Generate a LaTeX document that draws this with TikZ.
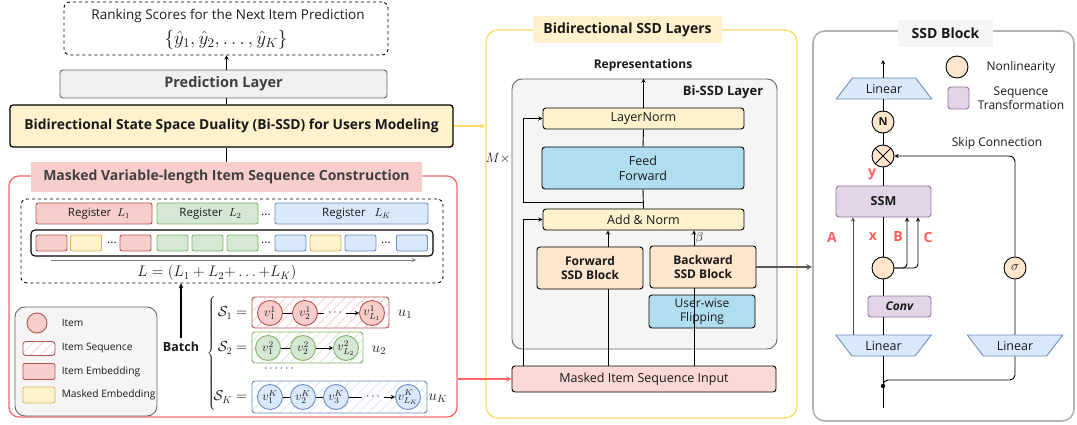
\RequirePackage{fix-cm}
\documentclass[tikz,border=0pt]{standalone}
\usepackage{fontspec}
\setmainfont{Open Sans}
\usetikzlibrary{shapes.geometric,patterns.meta,positioning}

\definecolor{redF}{HTML}{F8CECC}\definecolor{redL}{HTML}{B85450}
\definecolor{grnF}{HTML}{D5E8D4}\definecolor{grnL}{HTML}{82B366}
\definecolor{bluF}{HTML}{DAE8FC}\definecolor{bluL}{HTML}{6C8EBF}
\definecolor{ylwF}{HTML}{FFF2CC}\definecolor{ylwL}{HTML}{D6B656}
\definecolor{grayF}{HTML}{F5F5F5}\definecolor{grayL}{HTML}{666666}
\definecolor{orgF}{HTML}{FFE6CC}\definecolor{purF}{HTML}{E1D5E7}
\definecolor{purL}{HTML}{9673A6}\definecolor{cyanF}{HTML}{B1DDF0}
\definecolor{inF}{HTML}{FAD9D5}\definecolor{outR}{HTML}{FF6666}
\definecolor{outY}{HTML}{FFD966}\definecolor{outG}{HTML}{B3B3B3}
\definecolor{labR}{HTML}{FF5C5C}

\newcommand{\fsz}[1]{\fontsize{#1}{#1}\selectfont\baselineskip=1.2\baselineskip\relax}

\tikzset{
  txt/.style={font=\fsz{#1}},
  btxt/.style={font=\fsz{#1}\bfseries},
  sz/.style 2 args={minimum width=#1,minimum height=#2,inner sep=0pt},
  blk/.style={draw,rounded corners=3pt,align=center},
  emb/.style={draw=#1L,fill=#1F,rounded corners=2pt,sz={31}{16}},
  seq/.style={draw=#1L,rounded corners=3pt,preaction={fill=white},
    pattern={Lines[angle=45,distance=7pt,line width=0.7pt]},pattern color=#1F},
  itm/.style={circle,draw=#1L,fill=#1F,minimum size=25pt,inner sep=0pt,txt=12.5},
  lin/.style={trapezium,trapezium stretches=true,trapezium angle=45,
    draw=bluL,fill=bluF,sz={96}{21},txt=12.5},
  nl/.style={circle,draw,fill=orgF,minimum size=22pt,inner sep=0pt},
  purp/.style={draw=purL,fill=purF,rounded corners=3pt},
  lab/.style={text=labR,txt=14}
}

\begin{document}
\begin{tikzpicture}[x=1pt,y=-1pt,line width=0.9pt,every node/.style={txt=12,text=black!90}]
  \useasboundingbox (0,0) rectangle (1077,425);

  % 予測
  \node[draw,dashed,rounded corners=6pt,sz={324}{53}] (score) at (226,28.5) {};
  \node[txt=13.5] (scoretxt) at (228,16) {Ranking Scores for the Next Item Prediction};
  \node[txt=19] (scoremath) at (226,40) {$\{\hat{y}_1,\hat{y}_2,\ldots,\hat{y}_K\}$};
  \node[blk,draw=grayL,fill=black!6,text=black!75,btxt=14.5,sz={327}{28}] (pred) at (223.5,84) {Prediction Layer};
  \node[blk,fill=ylwF,line width=1.3pt,btxt=13.8,sz={443}{42}] (bissd) at (231.5,126)
    {Bidirectional State Space Duality (Bi-SSD) for Users Modeling};

  % 系列の構築
  \node[draw=outR,line width=1.3pt,rounded corners=10pt,sz={448}{241}] (construct) at (233,296.5) {};
  \node[fill=redF,btxt=14,text=black!75,sz={391}{30}] (ctitle) at (226.5,177)
    {Masked Variable-length Item Sequence Construction};
  \draw[-stealth] (pred.north -| ctitle.north) -- (score.south -| ctitle.north);
  \draw (bissd.north -| ctitle.north) -- (pred.south -| ctitle.north);
  \draw (ctitle.north) -- (ctitle.north |- bissd.south);

  \node[draw,dashed,rounded corners=6pt,sz={422}{84}] (regbox) at (232,241) {};
  \node[emb=red,sz={116}{21},txt=11.5] (reg1) at (94,213.5) {\hspace{10pt}Register~~$L_1$};
  \node[emb=grn,sz={101}{21},txt=11.5] (reg2) at (207.5,213.5) {\hspace{6pt}Register~~$L_2$};
  \node (rdots) at (266,215) {...};
  \node[emb=blu,sz={153}{21},txt=11.5] (regK) at (351.5,213.5) {\hspace{10pt}Register~~~$L_K$};

  \node[draw,rounded corners=4pt,line width=1.1pt,sz={402}{26}] (embrow) at (232,243) {};
  \foreach \c/\x [count=\i] in {red/51.5,ylw/86,red/135.5,grn/172.5,grn/207.5,grn/242.5,
      blu/290.5,ylw/325.5,blu/360.5,blu/412}
    \node[emb=\c] (e\i) at (\x,243) {};
  \foreach \x [count=\i] in {112,266,386}
    \node (edots\i) at (\x,243) {...};

  \coordinate (lstart) at (51,260);
  \coordinate (lend) at (416,260);
  \draw[-stealth,black!50] (lstart) -- (lend);
  \node[txt=15.3] (lsum) at (217,273) {$L=(L_1+L_2{+}\ldots{+}L_K)$};

  % バッチ
  \node[btxt=12.5] (batch) at (181,347) {Batch};
  \draw[-stealth,line width=1.1pt] (batch.north) -- (batch.north |- regbox.south);
  \node[inner sep=0pt] (brace) at (212,354) {$\left\{\vrule height 56pt depth 56pt width 0pt\right.$};

  \node[anchor=east,txt=14.5] (s1) at (251,313) {$\mathcal{S}_1=$};
  \node[anchor=east,txt=14.5] (s2) at (251,348) {$\mathcal{S}_2=$};
  \node[anchor=east,txt=14.5] (sK) at (251,397) {$\mathcal{S}_K=$};

  \node[seq=red,sz={137}{31}] (q1) at (320.5,312.5) {};
  \node[itm=red] (v11) at (270,313) {$v_1^1$};
  \node[itm=red] (v12) at (305,313) {$v_2^1$};
  \node (q1dots) at (335,313) {$\cdots$};
  \node[itm=red] (v1L) at (372,313) {$v_{L_1}^1$};
  \draw (v11) -- (v12);
  \draw (v12) -- (q1dots);
  \draw[-stealth] (q1dots) -- (v1L);
  \node[txt=15] (u1) at (405,314) {$u_1$};

  \node[seq=grn,sz={111}{31}] (q2) at (307.5,347.5) {};
  \node[itm=grn] (v21) at (268,348) {$v_1^2$};
  \node[itm=grn] (v22) at (303,348) {$v_2^2$};
  \node[itm=grn] (v2L) at (346,348) {$v_{L_2}^2$};
  \draw (v21) -- (v22);
  \draw[-stealth] (v22) -- (v2L);
  \node[txt=15] (u2) at (379,350) {$u_2$};

  \node (vdots) at (279,369) {$\cdots\cdots$};

  \node[seq=blu,sz={175}{32}] (qK) at (339.5,397) {};
  \node[itm=blu] (vK1) at (270,397) {$v_1^K$};
  \node[itm=blu] (vK2) at (303,397) {$v_2^K$};
  \node[itm=blu] (vK3) at (336,397) {$v_3^K$};
  \node (qKdots) at (373,397) {$\cdots$};
  \node[itm=blu] (vKL) at (408,397) {$v_{L_K}^K$};
  \draw (vK1) -- (vK2);
  \draw (vK2) -- (vK3);
  \draw (vK3) -- (qKdots);
  \draw[-stealth] (qKdots) -- (vKL);
  \node[txt=15] (uK) at (438,398) {$u_K$};

  % 凡例
  \node[draw=grayL,fill=grayF,rounded corners=10pt,sz={142}{109}] (legend) at (86,361.5) {};
  \node[itm=red,minimum size=20pt] (lgitem) at (37,323) {};
  \node[seq=red,sz={32}{14}] (lgseq) at (39,348.5) {};
  \node[emb=red,sz={32}{16}] (lgemb) at (39,371.5) {};
  \node[emb=ylw,sz={32}{16}] (lgmask) at (39,395) {};
  \node[anchor=west,txt=10.2] (lgt1) at (58,323) {Item};
  \node[anchor=west,txt=10.2] (lgt2) at (58,348.5) {Item Sequence};
  \node[anchor=west,txt=10.2] (lgt3) at (58,371.5) {Item Embedding};
  \node[anchor=west,txt=10.2] (lgt4) at (58,395) {Masked Embedding};

  % 中央
  \node[draw=outY,line width=1.3pt,rounded corners=12pt,sz={311}{388}] (layers) at (641.5,224) {};
  \node[fill=ylwF,btxt=14,sz={189}{27}] (ltitle) at (627.5,29.5) {Bidirectional SSD Layers};
  \draw[-stealth,outY,line width=1.3pt] (bissd.east) -- (bissd.east -| layers.west);
  \node[btxt=12] (rep) at (643,65) {Representations};
  \node[draw=grayL,fill=grayF,rounded corners=10pt,sz={265}{270}] (bilayer) at (644.5,214) {};
  \node[anchor=east,btxt=13] (bititle) at (767,92) {Bi-SSD Layer};

  \node[blk,fill=ylwF,sz={201}{21},txt=12.5] (lnorm) at (643.5,118.5) {LayerNorm};
  \node[blk,fill=cyanF,sz={202}{42},txt=12.5] (ff) at (643,168) {Feed\\Forward};
  \node[blk,fill=ylwF,sz={201}{21},txt=12.5] (addn) at (643.5,219.5) {Add \& Norm};
  \node[blk,fill=orgF,btxt=12,sz={106}{42}] (fwd) at (590,268) {Forward\\SSD Block};
  \node[blk,fill=orgF,btxt=12,sz={106}{42}] (bwd) at (703,267) {Backward\\SSD Block};
  \node[blk,fill=cyanF,sz={106}{33},font=\fontsize{12}{13.5}\selectfont] (flip) at (702,311.5) {User-wise\\Flipping};
  \node[blk,fill=inF,sz={264}{26},txt=12.5] (input) at (644,379) {Masked Item Sequence Input};
  \node[txt=13.5] (mtimes) at (498,158) {$M\times$};

  \coordinate (mx) at (523,158);
  \coordinate (fx) at (608,0);
  \coordinate (bx) at (694,0);
  \coordinate (br1) at (643,202);
  \draw[-stealth] (lnorm.north) -- (lnorm.north |- bilayer.north);
  \draw (lnorm.south) -- (ff.north);
  \draw (ff.south) -- (addn.north);
  \draw[-stealth] (br1) -- (br1 -| mx) |- (lnorm.west);
  \draw[-stealth] (input.north -| mx) |- (addn.west);
  \draw[-stealth] (fwd.north -| fx) -- (addn.south -| fx);
  \draw[-stealth] (bwd.north -| bx) -- node[right,inner sep=1pt,txt=13] (beta) {$\beta$} (addn.south -| bx);
  \draw (input.north -| fx) -- (fwd.south -| fx);
  \draw (input.north -| bx) -- (bwd.south -| bx);
  \draw[-stealth,outR,line width=1.3pt] (construct.east |- input.west) -- (input.west);

  % 右側
  \node[draw=outG,line width=1.6pt,rounded corners=12pt,sz={261}{390}] (ssd) at (943.5,226) {};
  \node[fill=grayF,btxt=14,sz={95}{27}] (stitle) at (945.5,33.5) {SSD Block};
  \draw[-stealth,black!65,line width=1.6pt] (bwd.east) -- (bwd.east -| ssd.west);

  \node[lin] (lin1) at (884,88.5) {Linear};
  \node[nl,btxt=11] (nn) at (883,122) {N};
  \node[nl] (mul) at (883,156) {};
  \draw (mul.north east) -- (mul.south west) (mul.north west) -- (mul.south east);
  \node[lab] (ylab) at (872,174) {$\mathbf{y}$};
  \node[purp,btxt=12.5,sz={95}{31}] (ssm) at (883.5,201.5) {SSM};
  \node[nl] (nl2) at (883,268) {};
  \node[purp,font=\fsz{12}\bfseries\itshape,sz={63}{21}] (conv) at (899.5,306.5) {Conv};
  \node[lin,shape border rotate=180] (lin2) at (883.5,345.5) {Linear};
  \node[nl,txt=13.5] (sig) at (1015,268) {$\sigma$};
  \node[lin,shape border rotate=180] (lin3) at (1015,345.5) {Linear};

  \node[nl] (lgnl) at (957,67) {};
  \node (lgnlt) at (1021,67) {Nonlinearity};
  \node[purp,sz={21}{22}] (lgst) at (958.5,98) {};
  \node[align=center] (lgstt) at (1021,98) {Sequence\\Transformation};
  \node (skiplab) at (997,143) {Skip Connection};

  \node[lab] (alab) at (832,237) {$\mathbf{A}$};
  \node[lab] (xlab) at (873,237) {$\mathbf{x}$};
  \node[lab] (blab) at (898,237) {$\mathbf{B}$};
  \node[lab] (clab) at (928,237) {$\mathbf{C}$};

  \coordinate (out) at (883,60);
  \coordinate (in) at (883,408);
  \coordinate (fork) at (883,386);
  \coordinate (bend) at (1015,380);
  \coordinate (ax) at (853,0);
  \coordinate (bbx) at (907,0);
  \coordinate (ccx) at (918,0);
  \draw[-stealth] (lin1.north -| out) -- (out);
  \draw (nn.north) -- (lin1.south -| nn);
  \draw (mul.north) -- (nn.south);
  \draw (ssm.north -| mul) -- (mul.south);
  \draw[-stealth,rounded corners=6pt] (sig.north) |- (mul.east);
  \draw[-stealth,black!70] (lin2.north -| ax) -- (ssm.south -| ax);
  \draw (lin2.north -| mul) -- (conv.south -| mul);
  \draw (conv.north -| mul) -- (nl2.south);
  \draw (nl2.north) -- (ssm.south -| nl2);
  \draw[-stealth,rounded corners=4pt] (nl2.east) -| (ssm.south -| bbx);
  \draw[-stealth,rounded corners=4pt] (nl2.east) -| (ssm.south -| ccx);
  \draw (sig.south) -- (lin3.north);
  \draw (in) -- (lin2.south -| mul);
  \fill (fork) circle (2.2pt);
  \draw[rounded corners=5pt] (fork) |- (bend) -- (lin3.south);
\end{tikzpicture}
\end{document}
